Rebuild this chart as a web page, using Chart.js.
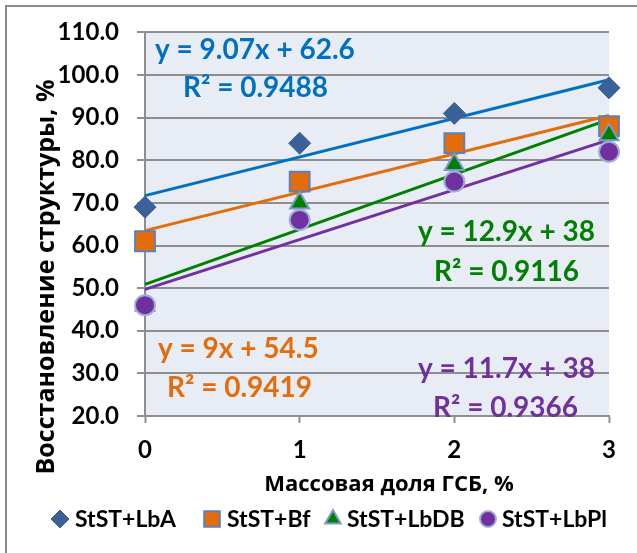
<!DOCTYPE html>
<html><head><meta charset="utf-8">
<script src="https://cdn.jsdelivr.net/npm/chart.js@4.4.0/dist/chart.umd.min.js"></script>
<style>html,body{margin:0;padding:0;background:#fff;overflow:hidden}</style>
</head><body>
<canvas id="c" width="637" height="553"></canvas>
<script>
// ---- data ----
const xValues = [0, 1, 2, 3];
const seriesNames = ['StST+LbA', 'StST+Bf', 'StST+LbDB', 'StST+LbPl'];
const lbA  = [69, 84, 91, 97];
const bf   = [61, 75, 84, 88];
const lbDB = [46, 70, 79, 86];
const lbPl = [46, 66, 75, 82];
const trendX = [0, 3];
const trendLbA  = [71.7, 98.9];
const trendBf   = [63.5, 90.5];
const trendLbDB = [50.9, 89.6];
const trendLbPl = [49.7, 84.8];
const eqLabels = ['y = 9.07x + 62.6', 'y = 9x + 54.5', 'y = 12.9x + 38', 'y = 11.7x + 38'];
const r2Labels = ['R² = 0.9488', 'R² = 0.9419', 'R² = 0.9116', 'R² = 0.9366'];
const yTickValues = [20, 30, 40, 50, 60, 70, 80, 90, 100, 110];
const xTickValues = [0, 1, 2, 3];
const xTitle = 'Массовая доля ГСБ, %';
const yTitle = 'Восстановление структуры, %';

// ---- styles ----
const LATO = 'Lato, "Open Sans", sans-serif';
const CYR = '"Open Sans", "Noto Sans", sans-serif';
const colors = ['#0070C0', '#E46C0A', '#008000', '#7030A0'];
const markerFill = ['#3C6198', '#E46C0A', '#008000', '#7030A0'];
const markerBorder = ['#3C6198', '#5A80BD', '#7D9AC9', '#A0AED6'];
const markerStyle = ['rectRot', 'rect', 'triangle', 'circle'];
const markerRadius = [11, 14, 11, 10];
const gridColor = '#8E8E8E';

const toPts = (xs, ys) => ys.map((y, i) => ({x: xs[i], y}));
const seriesVals = [lbA, bf, lbDB, lbPl];
const trends = [trendLbA, trendBf, trendLbDB, trendLbPl];

const datasets = [];
seriesVals.forEach((vals, i) => {
  datasets.push({
    label: seriesNames[i], data: toPts(xValues, vals), showLine: false,
    pointStyle: markerStyle[i], pointRadius: markerRadius[i], pointHoverRadius: markerRadius[i],
    backgroundColor: markerFill[i], borderColor: markerBorder[i], pointBorderWidth: i === 0 ? 1 : 2,
    order: 4 - i, clip: false
  });
});
trends.forEach((vals, i) => {
  datasets.push({
    label: 'trend ' + seriesNames[i], data: toPts(trendX, vals), showLine: true,
    borderColor: colors[i], borderWidth: 3, pointRadius: 0, fill: false,
    order: 10, clip: false
  });
});

const texts = [
  [eqLabels[0], 155, 59, colors[0]], [r2Labels[0], 183, 97, colors[0]],
  [eqLabels[2], 418, 241, colors[2]], [r2Labels[2], 434, 281, colors[2]],
  [eqLabels[1], 158, 358, colors[1]], [r2Labels[1], 167, 397, colors[1]],
  [eqLabels[3], 418, 378, colors[3]], [r2Labels[3], 433, 417, colors[3]],
];

const decor = {
  id: 'decor',
  beforeDraw(chart) {
    const ctx = chart.ctx, a = chart.chartArea;
    ctx.save();
    ctx.fillStyle = '#fff';
    ctx.fillRect(0, 0, chart.width, chart.height);
    ctx.strokeStyle = '#8C8C8C'; ctx.lineWidth = 2;
    ctx.beginPath(); ctx.moveTo(6, 560); ctx.lineTo(6, 6); ctx.lineTo(640, 6); ctx.stroke();
    ctx.fillStyle = '#E8ECF5';
    ctx.fillRect(a.left, a.top, a.right - a.left, a.bottom - a.top);
    ctx.restore();
  },
  afterDraw(chart) {
    const ctx = chart.ctx;
    ctx.save();
    ctx.textBaseline = 'alphabetic'; ctx.textAlign = 'left';
    ctx.font = 'bold 28px ' + LATO;
    texts.forEach(([t, x, y, c]) => { ctx.fillStyle = c; ctx.fillText(t, x, y); });
    ctx.fillStyle = '#000';
    ctx.font = 'bold 22px ' + CYR;
    ctx.textAlign = 'center';
    ctx.fillText(xTitle, 389, 491);
    ctx.save();
    ctx.translate(54, 277); ctx.rotate(-Math.PI / 2);
    ctx.font = 'bold 25px ' + CYR;
    ctx.fillText(yTitle, 0, 0);
    ctx.restore();
    const mx = [60, 212, 333, 488], tx = [75, 227, 347, 502], ly = 519;
    const lr = [9, 11, 9, 8];
    ctx.font = 'bold 23px ' + LATO; ctx.textAlign = 'left'; ctx.textBaseline = 'alphabetic';
    for (let i = 0; i < 4; i++) {
      ctx.fillStyle = markerFill[i]; ctx.strokeStyle = markerBorder[i]; ctx.lineWidth = i === 0 ? 1 : 2;
      Chart.helpers.drawPoint(ctx, {pointStyle: markerStyle[i], radius: lr[i], rotation: 0, borderWidth: ctx.lineWidth}, mx[i], ly);
      ctx.fillStyle = '#000';
      ctx.fillText(seriesNames[i], tx[i], 527);
    }
    ctx.restore();
  }
};

new Chart(document.getElementById('c'), {
  type: 'scatter',
  data: {datasets},
  options: {
    responsive: false, animation: false, devicePixelRatio: 1,
    layout: {padding: {top: 30, right: 28, bottom: 0, left: 0}},
    plugins: {legend: {display: false}, tooltip: {enabled: false}},
    scales: {
      x: {
        type: 'linear', min: 0, max: 3,
        afterFit(s) { s.height = 137; },
        afterBuildTicks(s) { s.ticks = xTickValues.map(v => ({value: v})); },
        grid: {drawOnChartArea: false, drawTicks: true, tickLength: 7, tickColor: gridColor, tickWidth: 2},
        border: {display: true, color: gridColor, width: 2},
        ticks: {padding: 13, color: '#000', font: {family: LATO, size: 24, weight: 'bold'}, callback: v => String(v)}
      },
      y: {
        type: 'linear', min: 20, max: 110,
        afterFit(s) { s.width = 145; },
        afterBuildTicks(s) { s.ticks = yTickValues.map(v => ({value: v})); },
        grid: {color: gridColor, lineWidth: 2, drawTicks: true, tickLength: 8, tickColor: gridColor, tickWidth: 2},
        border: {display: true, color: gridColor, width: 2},
        ticks: {padding: 18, color: '#000', font: {family: LATO, size: 24, weight: 'bold'}, callback: v => v.toFixed(1)}
      }
    }
  },
  plugins: [decor]
});
</script>
</body></html>
